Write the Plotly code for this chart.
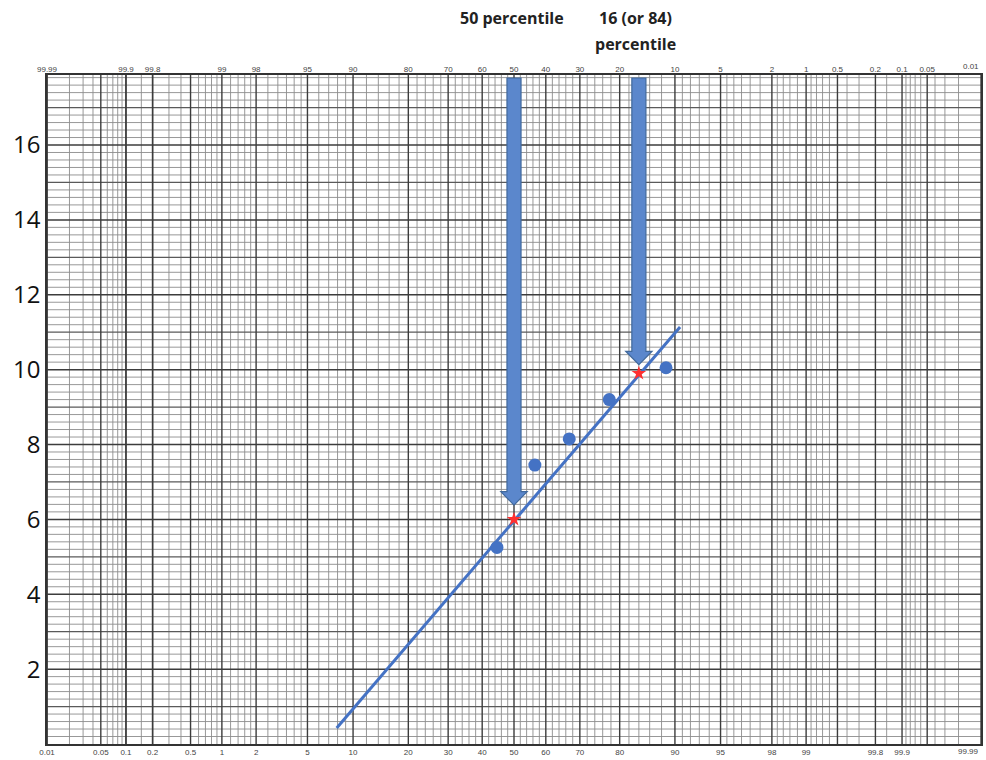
import plotly.graph_objects as go
from statistics import NormalDist

ND = NormalDist()
def z(p):
    return ND.inv_cdf(p / 100.0)

# ---------------- data ----------------
bottom_tick_probs = [0.01, 0.05, 0.1, 0.2, 0.5, 1, 2, 5, 10, 20, 30, 40, 50, 60, 70, 80, 90, 95, 98, 99, 99.8, 99.9, 99.99]
bottom_tick_text = ["0.01", "0.05", "0.1", "0.2", "0.5", "1", "2", "5", "10", "20", "30", "40", "50", "60", "70", "80", "90", "95", "98", "99", "99.8", "99.9", "99.99"]
top_tick_text = ["99.99", "99.9", "99.8", "99", "98", "95", "90", "80", "70", "60", "50", "40", "30", "20", "10", "5", "2", "1", "0.5", "0.2", "0.1", "0.05", "0.01"]
# top axis shows exceedance; positions follow the same probability scale
top_tick_probs = [0.01, 0.1, 0.2, 1, 2, 5, 10, 20, 30, 40, 50, 60, 70, 80, 90, 95, 98, 99, 99.5, 99.8, 99.9, 99.95, 99.99]

y_ticks = [2, 4, 6, 8, 10, 12, 14, 16]

obs_prob = [44.6, 56.6, 67.0, 77.6, 88.7]
obs_value = [5.25, 7.45, 8.15, 9.2, 10.05]

pct_prob = [50, 84]
pct_value = [6.0, 9.9]

fit_prob = [7.9, 90.7]
fit_value = [0.43, 11.14]

arrow_prob = [50, 84]
arrow_tip = [6.38, 10.13]

# grid probabilities (lower half, mirrored)
minor_half = [0.02, 0.03, 0.04, 0.06, 0.07, 0.08, 0.09, 0.15, 0.3, 0.4, 0.6, 0.7, 0.8, 0.9,
              1.2, 1.4, 1.6, 1.8, 2.5, 3, 3.5, 4, 4.5, 6, 7, 8, 9,
              12, 14, 16, 18, 22, 24, 26, 28, 32, 34, 36, 38, 42, 44, 46, 48]

# ---------------- figure ----------------
ZMAX = z(99.99)
YMAX = 17.87

fig = go.Figure()

def vlines(zs):
    xs, ys = [], []
    for v in zs:
        xs += [v, v, None]
        ys += [0, YMAX, None]
    return xs, ys

def hlines(vals):
    xs, ys = [], []
    for v in vals:
        xs += [-ZMAX, ZMAX, None]
        ys += [v, v, None]
    return xs, ys

minor_z = [z(p) for p in minor_half] + [z(100 - p) for p in minor_half]
major_z = [z(p) for p in set(bottom_tick_probs + [100 - p for p in bottom_tick_probs])]

ys_minor = [round(i * 0.2, 2) for i in range(1, 90) if i % 5 != 0]
ys_mid = [i for i in range(1, 18) if i % 2 == 1]
ys_major = [i for i in range(2, 18, 2)]

for (xs, ys), col, w in [
    (vlines(minor_z), "#8c8c8c", 0.9),
    (hlines(ys_minor), "#8c8c8c", 0.9),
    (hlines(ys_mid), "#5a5a5a", 1.2),
    (vlines(major_z), "#3c3c3c", 1.4),
    (hlines(ys_major), "#3c3c3c", 1.5),
]:
    fig.add_trace(go.Scatter(x=xs, y=ys, mode="lines", line=dict(color=col, width=w),
                             hoverinfo="skip", showlegend=False))

# fitted line
fig.add_trace(go.Scatter(x=[z(p) for p in fit_prob], y=fit_value, mode="lines",
                         line=dict(color="#4472c4", width=3), showlegend=False))
# observations
fig.add_trace(go.Scatter(x=[z(p) for p in obs_prob], y=obs_value, mode="markers",
                         marker=dict(color="#4472c4", size=13), showlegend=False))
# percentile markers
fig.add_trace(go.Scatter(x=[z(p) for p in pct_prob], y=pct_value, mode="markers",
                         marker=dict(color="#ff3030", size=11, symbol="star"), showlegend=False))

# invisible trace to anchor top axis
fig.add_trace(go.Scatter(x=[0], y=[0], xaxis="x2", mode="markers",
                         marker=dict(opacity=0), hoverinfo="skip", showlegend=False))

# arrows
shaft_hw = 0.056
head_hw = 0.105
head_h = 0.36
y_top = 17.79
for p, tip in zip(arrow_prob, arrow_tip):
    c = z(p)
    base = tip + head_h
    path = (f"M {c-shaft_hw},{y_top} L {c+shaft_hw},{y_top} L {c+shaft_hw},{base} "
            f"L {c+head_hw},{base} L {c},{tip} L {c-head_hw},{base} L {c-shaft_hw},{base} Z")
    fig.add_shape(type="path", path=path, xref="x", yref="y",
                  fillcolor="#5b87cc", line=dict(color="#41699c", width=1.2))

# titles above arrows
title_font = dict(family="Open Sans", size=16, color="#222")
fig.add_annotation(text="<b>50 percentile</b>", x=z(49.3), y=1.085, xref="x", yref="paper",
                   yanchor="middle", showarrow=False, font=title_font)
fig.add_annotation(text="<b>16 (or 84)</b>", x=z(83.3), y=1.085, xref="x", yref="paper",
                   yanchor="middle", showarrow=False, font=title_font)
fig.add_annotation(text="<b>percentile</b>", x=z(83.3), y=1.046, xref="x", yref="paper",
                   yanchor="middle", showarrow=False, font=title_font)

tickfont = dict(family="Liberation Sans", size=8, color="#444")

# right-edge labels that the axis would drop
fig.add_annotation(text=top_tick_text[-1], x=z(top_tick_probs[-1]), y=1, xref="x", yref="paper",
                   xanchor="right", yanchor="bottom", yshift=2, showarrow=False, font=tickfont)
fig.add_annotation(text=bottom_tick_text[-1], x=z(bottom_tick_probs[-1]), y=0, xref="x", yref="paper",
                   xanchor="right", yanchor="top", yshift=-1, showarrow=False, font=tickfont)

fig.update_layout(
    width=986, height=760,
    margin=dict(l=47, r=5, t=75, b=16, autoexpand=False),
    plot_bgcolor="white", paper_bgcolor="white",
    xaxis=dict(range=[-ZMAX, ZMAX], tickvals=[z(p) for p in bottom_tick_probs[:-1]],
               ticktext=bottom_tick_text[:-1], showgrid=False, zeroline=False,
               showline=True, linecolor="#333", linewidth=1.5, mirror=True,
               ticks="", tickfont=tickfont, ticklabelstandoff=0, automargin=False),
    xaxis2=dict(range=[-ZMAX, ZMAX], overlaying="x", side="top",
                tickvals=[z(p) for p in top_tick_probs[:-1]], ticktext=top_tick_text[:-1],
                showgrid=False, zeroline=False, ticks="", tickfont=tickfont, automargin=False),
    yaxis=dict(range=[0, YMAX], tickvals=y_ticks, ticktext=[str(v) for v in y_ticks],
               showgrid=False, zeroline=False, showline=True, linecolor="#333",
               linewidth=1.5, mirror=True, ticks="", automargin=False,
               tickfont=dict(family="Open Sans", size=24, color="#111")),
)

fig.write_html("out.html", config={"displayModeBar": False},
               post_script="document.body.style.margin='0px';")
